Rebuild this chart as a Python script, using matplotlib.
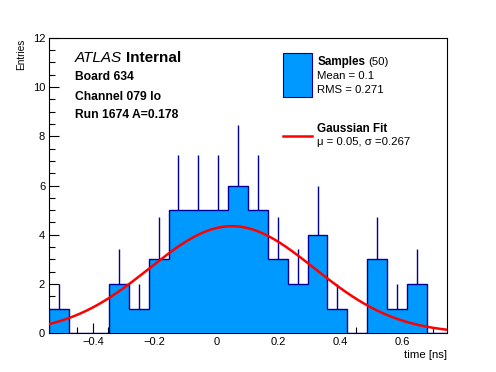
import numpy as np
import matplotlib
matplotlib.use("Agg")
import matplotlib.pyplot as plt
from matplotlib.patches import Rectangle
from matplotlib.lines import Line2D

plt.rcParams['font.family'] = ['Liberation Sans', 'DejaVu Sans']

# ---- data ----
counts = [1, 0, 0, 2, 1, 3, 5, 5, 5, 6, 5, 3, 2, 4, 1, 0, 3, 1, 2, 0]
x_min, x_max = -0.541, 0.745
y_max = 12
fit_amp = 4.35
fit_mu = 0.05
fit_sigma = 0.267
n_samples = 50
mean_val = 0.1
rms_val = 0.271
x_ticks = [-0.4, -0.2, 0, 0.2, 0.4, 0.6]
x_ticklabels = ["\u22120.4", "\u22120.2", "0", "0.2", "0.4", "0.6"]
y_ticks = [0, 2, 4, 6, 8, 10, 12]

fill_col = "#0099ff"
edge_col = "#000099"

W, H = 496, 372
fig = plt.figure(figsize=(W / 100, H / 100), dpi=100)
L, R, T, B = 49.3, 446.7, 37.7, 333.3
ax = fig.add_axes([L / W, 1 - B / H, (R - L) / W, (B - T) / H])

counts_arr = np.array(counts, dtype=float)
edges = np.linspace(x_min, x_max, len(counts) + 1)
centers = 0.5 * (edges[:-1] + edges[1:])

# error bars (upper part visible above fill)
mask = counts_arr > 0
ax.vlines(centers[mask], counts_arr[mask], counts_arr[mask] + np.sqrt(counts_arr[mask]),
          color=edge_col, lw=1.0, zorder=2)
ax.stairs(counts_arr, edges, fill=True, facecolor=fill_col, edgecolor=edge_col,
          linewidth=1.0, zorder=3)

xs = np.linspace(x_min, x_max, 400)
ax.plot(xs, fit_amp * np.exp(-0.5 * ((xs - fit_mu) / fit_sigma) ** 2),
        color="#ff0000", lw=1.8, zorder=4)

ax.set_xlim(x_min, x_max)
ax.set_ylim(0, y_max)
ax.set_xticks(x_ticks)
ax.set_xticklabels(x_ticklabels)
ax.set_yticks(y_ticks)
ax.set_xticks(np.arange(-0.5, 0.75, 0.05), minor=True)
ax.set_yticks(np.arange(0, 12.01, 0.5), minor=True)
ax.tick_params(which='both', direction='in', labelsize=8, width=0.8, top=False, right=False)
ax.tick_params(which='major', length=7, pad=3)
ax.tick_params(which='minor', length=4)
for s in ax.spines.values():
    s.set_linewidth(0.8)

fig.text(R / W, 1 - 355 / H, "time [ns]", ha='right', va='center', fontsize=8.2)
fig.text(21 / W, 1 - 39 / H, "Entries", ha='center', va='top', rotation=90, fontsize=7.2)

def ft(xp, yp, s, **kw):
    return fig.text(xp / W, 1 - yp / H, s, va='baseline', **kw)

t1 = ft(75, 62.3, "ATLAS", fontsize=11, style='italic')
fig.canvas.draw()
bb = t1.get_window_extent()
fig.text((bb.x1 + 4) / W, 1 - 62.3 / H, "Internal", va='baseline', fontsize=11,
         fontweight='bold')
ft(75, 80.3, "Board 634", fontsize=8.7, fontweight='bold')
ft(75, 100, "Channel 079 lo", fontsize=8.7, fontweight='bold')
ft(75, 118.3, "Run 1674 A=0.178", fontsize=8.7, fontweight='bold')

# legend
fig.patches.append(Rectangle((283.3 / W, 1 - 96.7 / H), (311.7 - 283.3) / W, (96.7 - 53.3) / H,
                             transform=fig.transFigure, facecolor=fill_col, edgecolor=edge_col,
                             lw=0.8))
fig.lines.append(Line2D([283.3 / W, 311.7 / W], [1 - 135.7 / H, 1 - 135.7 / H],
                        transform=fig.transFigure, color="#ff0000", lw=1.8))
t2 = ft(317.3, 65, "Samples", fontsize=8.4, fontweight='bold')
fig.canvas.draw()
bb2 = t2.get_window_extent()
fig.text((bb2.x1 + 3) / W, 1 - 65 / H, f"({n_samples})", va='baseline', fontsize=8.2)
ft(317.3, 79.3, f"Mean = {mean_val}", fontsize=8.2)
ft(317.3, 93.3, f"RMS = {rms_val}", fontsize=8.2)
ft(317.3, 132.3, "Gaussian Fit", fontsize=8.4, fontweight='bold')
ft(317.3, 145, f"\u03bc = {fit_mu}, \u03c3 ={fit_sigma}", fontsize=8.2)

fig.savefig("out.png", dpi=100)
